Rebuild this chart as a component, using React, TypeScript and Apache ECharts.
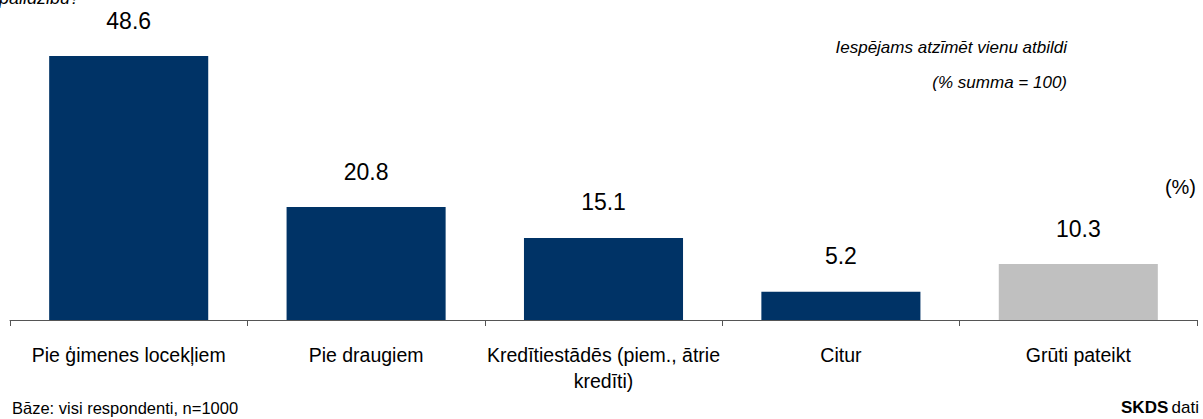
import React, { useEffect, useRef } from "react";
import * as echarts from "echarts";

const categories = [
  "Pie ģimenes locekļiem",
  "Pie draugiem",
  "Kredītiestādēs (piem., ātrie\nkredīti)",
  "Citur",
  "Grūti pateikt",
];
const values = [48.6, 20.8, 15.1, 5.2, 10.3];
const barColors = ["#003366", "#003366", "#003366", "#003366", "#C0C0C0"];

const FONT = "'Liberation Sans', Arial, sans-serif";

export default function App() {
  const ref = useRef<HTMLDivElement>(null);
  useEffect(() => {
    if (!ref.current) return;
    const chart = echarts.init(ref.current, undefined, { renderer: "svg" });
    chart.setOption({
      animation: false,
      backgroundColor: "#ffffff",
      textStyle: { fontFamily: FONT, color: "#000" },
      grid: { left: 10, right: 6, top: 48.4, bottom: 99, containLabel: false },
      xAxis: {
        type: "category",
        data: categories,
        axisLine: { lineStyle: { color: "#555", width: 1 } },
        axisTick: { show: true, length: 6, lineStyle: { color: "#555" } },
        axisLabel: {
          color: "#000",
          fontSize: 19.5,
          fontFamily: FONT,
          margin: 22,
          lineHeight: 26,
          interval: 0,
        },
      },
      yAxis: {
        type: "value",
        min: 0,
        max: 50,
        show: false,
        splitLine: { show: false },
      },
      series: [
        {
          type: "bar",
          barCategoryGap: "33%",
          data: values.map((v, i) => ({ value: v, itemStyle: { color: barColors[i] } })),
          label: {
            show: true,
            position: "top",
            distance: 24,
            fontSize: 23,
            fontFamily: FONT,
            color: "#000",
            formatter: (p: any) => p.value.toFixed(1),
          },
        },
      ],
      graphic: [
        {
          type: "text",
          left: -1,
          top: -11,
          style: { text: "palīdzību?", font: `italic 18px ${FONT}`, fill: "#000" },
        },
        {
          type: "text",
          right: 136,
          top: 39,
          style: { text: "Iespējams atzīmēt vienu atbildi", font: `italic 17px ${FONT}`, fill: "#000" },
        },
        {
          type: "text",
          right: 136,
          top: 74,
          style: { text: "(% summa = 100)", font: `italic 17px ${FONT}`, fill: "#000" },
        },
        {
          type: "text",
          right: 7,
          top: 177,
          style: { text: "(%)", font: `20px ${FONT}`, fill: "#000" },
        },
        {
          type: "text",
          left: 12,
          top: 399,
          style: { text: "Bāze: visi respondenti, n=1000", font: `16.5px ${FONT}`, fill: "#000" },
        },
        {
          type: "text",
          right: 4,
          top: 399,
          style: {
            text: "{b|SKDS} {n|dati}",
            rich: {
              b: { fontWeight: "bold", fontSize: 17, fontFamily: FONT, fill: "#000" },
              n: { fontSize: 17, fontFamily: FONT, fill: "#000" },
            },
          },
        },
      ],
    });
    return () => chart.dispose();
  }, []);
  return <div ref={ref} style={{ width: 1203, height: 419, position: "absolute", left: 0, top: 0 }} />;
}
